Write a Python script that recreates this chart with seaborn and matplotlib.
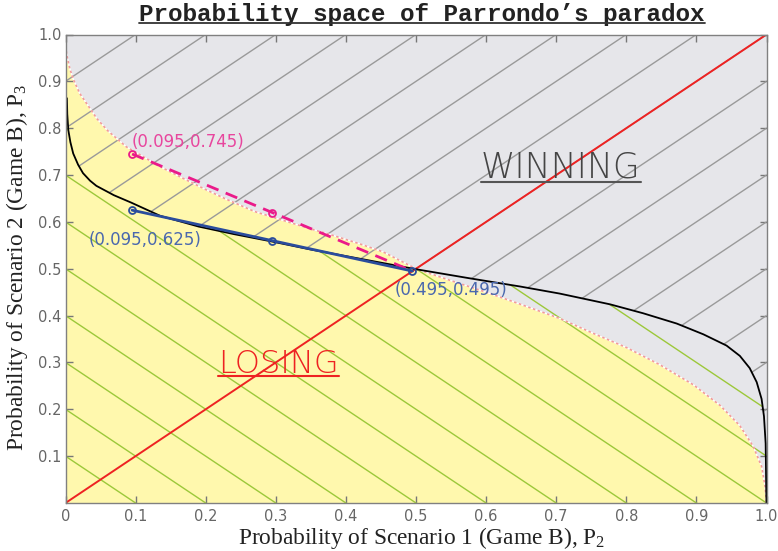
import numpy as np
import matplotlib
matplotlib.use("Agg")
import matplotlib.pyplot as plt
import seaborn as sns
from matplotlib.patches import Polygon
from matplotlib.lines import Line2D
from matplotlib.transforms import IdentityTransform

# ---------------- data ----------------
# boundary of the losing (yellow) region
bound_x = [0.0, 0.002, 0.006, 0.011, 0.02, 0.03, 0.045, 0.06, 0.087, 0.11, 0.135, 0.165,
           0.2, 0.23, 0.27, 0.311, 0.35, 0.382, 0.42, 0.453, 0.5, 0.549, 0.6, 0.64, 0.705,
           0.753, 0.8, 0.848, 0.896, 0.934, 0.962, 0.981, 0.993, 0.998, 1.0]
bound_y = [0.975, 0.955, 0.928, 0.905, 0.875, 0.853, 0.82, 0.795, 0.76, 0.74, 0.718, 0.695,
           0.669, 0.648, 0.622, 0.603, 0.585, 0.571, 0.553, 0.536, 0.5, 0.475, 0.45, 0.429, 0.394,
           0.362, 0.332, 0.295, 0.252, 0.208, 0.165, 0.121, 0.078, 0.035, 0.0]

# black curve
black_x = [0.002, 0.0025, 0.004, 0.007, 0.011, 0.018, 0.025, 0.035, 0.044, 0.069, 0.094,
           0.135, 0.19, 0.24, 0.295, 0.35, 0.4, 0.45, 0.5, 0.575, 0.649, 0.705, 0.777, 0.824,
           0.872, 0.91, 0.943, 0.962, 0.976, 0.986, 0.993, 0.9964, 0.9988, 0.9997, 1.0]
black_y = [0.864, 0.83, 0.796, 0.77, 0.746, 0.722, 0.704, 0.688, 0.677, 0.657, 0.641,
           0.613, 0.59, 0.574, 0.558, 0.541, 0.527, 0.513, 0.499, 0.48, 0.462, 0.447, 0.424, 0.405,
           0.383, 0.360, 0.336, 0.314, 0.288, 0.258, 0.222, 0.185, 0.127, 0.021, 0.0]

# diagonal
diag_x = [0.0, 1.0]
diag_y = [0.0, 1.0]

# pink dashed path
pink_x = [0.095, 0.295, 0.495]
pink_y = [0.745, 0.620, 0.495]
# blue path
blue_x = [0.095, 0.295, 0.495]
blue_y = [0.625, 0.560, 0.495]

x_ticks = [0, 0.1, 0.2, 0.3, 0.4, 0.5, 0.6, 0.7, 0.8, 0.9, 1.0]
x_tick_labels = ["0", "0.1", "0.2", "0.3", "0.4", "0.5", "0.6", "0.7", "0.8", "0.9", "1.0"]
y_ticks = [0.1, 0.2, 0.3, 0.4, 0.5, 0.6, 0.7, 0.8, 0.9, 1.0]
y_tick_labels = ["0.1", "0.2", "0.3", "0.4", "0.5", "0.6", "0.7", "0.8", "0.9", "1.0"]

# ---------------- style ----------------
sns.set_theme(style="ticks")
plt.rcParams["font.family"] = ["DejaVu Sans"]

YELLOW = "#fff8ad"
GRAY_BG = "#e6e6ea"
HATCH_GRAY = "#9a9a9a"
HATCH_GREEN = "#9cc83a"
RED = "#ee2222"
PINK = "#ea1a8a"
BLUE = "#2a4c9c"
PINK_TXT = "#e8469e"
BLUE_TXT = "#4a68ae"

fig = plt.figure(figsize=(7.78, 5.51), dpi=100)
ax = fig.add_axes([65.5 / 778, 48 / 551, 701 / 778, 468.5 / 551])
ax.set_xlim(0, 1)
ax.set_ylim(0, 1)

# background regions
ax.fill_between(bound_x, 0, bound_y, color=YELLOW, lw=0, zorder=0)
ax.fill_between(bound_x, bound_y, 1, color=GRAY_BG, lw=0, zorder=0)

# clip polygons from the black curve
bx = np.array(black_x)
by = np.array(black_y)
above = Polygon(np.column_stack([np.r_[0.0, bx, 1.0, 0.0], np.r_[by[0], by, 1.0, 1.0]]),
                closed=True, transform=ax.transData)
below = Polygon(np.column_stack([np.r_[0.0, bx, 1.0, 0.0], np.r_[by[0], by, 0.0, 0.0]]),
                closed=True, transform=ax.transData)

for c in np.arange(-0.9, 0.95, 0.1):
    ln, = ax.plot([-0.5, 1.5], [-0.5 + c, 1.5 + c], color=HATCH_GRAY, lw=1.0, zorder=1)
    ln.set_clip_path(above)
for c in np.arange(0.1, 1.95, 0.1):
    ln, = ax.plot([-0.5, 2.5], [c + 0.5, c - 2.5], color=HATCH_GREEN, lw=1.0, zorder=1)
    ln.set_clip_path(below)

# boundary of yellow region
ax.plot(bound_x, bound_y, color="white", lw=1.0, zorder=2)
ax.plot(bound_x, bound_y, color="#f29a9a", lw=1.2, ls=(0, (1.5, 1.5)), zorder=2)

# diagonal
sns.lineplot(x=diag_x, y=diag_y, ax=ax, color=RED, lw=1.4, zorder=3,
             estimator=None, sort=False)
# black curve
sns.lineplot(x=black_x, y=black_y, ax=ax, color="black", lw=1.3, zorder=3,
             estimator=None, sort=False)
# pink dashed
sns.lineplot(x=pink_x, y=pink_y, ax=ax, color=PINK, lw=2.0, zorder=4,
             estimator=None, sort=False, linestyle=(0, (4.5, 2.8)))
sns.lineplot(x=pink_x[:2], y=pink_y[:2], ax=ax, color=PINK, lw=0, zorder=5,
             estimator=None, sort=False, marker="o", ms=5, mfc="none", mec=PINK, mew=1.3)
# blue
sns.lineplot(x=blue_x, y=blue_y, ax=ax, color=BLUE, lw=2.0, zorder=4,
             estimator=None, sort=False)
sns.lineplot(x=blue_x, y=blue_y, ax=ax, color=BLUE, lw=0, zorder=5,
             estimator=None, sort=False, marker="o", ms=5, mfc="none", mec=BLUE, mew=1.3)

# annotations
ax.text(0.095, 0.760, f"({pink_x[0]},{pink_y[0]})", color=PINK_TXT, fontsize=12,
        va="baseline", ha="left", zorder=6)
ax.text(0.0325, 0.551, f"({blue_x[0]},{blue_y[0]})", color=BLUE_TXT, fontsize=12,
        va="baseline", ha="left", zorder=6)
ax.text(0.470, 0.444, f"({blue_x[2]},{blue_y[2]})", color=BLUE_TXT, fontsize=12,
        va="baseline", ha="left", zorder=6)

t_win = ax.text(0.5927, (503 - 178) / 468.5, "WINNING", color="#454545", fontsize=25,
                va="baseline", ha="left", zorder=6, fontweight="light")
t_lose = ax.text(0.2175, (503 - 373) / 468.5, "LOSING", color=RED, fontsize=23,
                 va="baseline", ha="left", zorder=6, fontweight="light")

# ticks & spines
ax.set_xticks(x_ticks)
ax.set_xticklabels(x_tick_labels)
ax.set_yticks(y_ticks)
ax.set_yticklabels(y_tick_labels)
ax.tick_params(direction="in", length=5, width=1, color="#777777", labelcolor="#666666",
               labelsize=10.5, top=True, right=True)
ax.tick_params(axis="y", pad=3)
ax.tick_params(axis="x", pad=4)
for s in ax.spines.values():
    s.set_color("#808080")
    s.set_linewidth(1.0)
    s.set_zorder(7)

# axis labels (serif)
fig.text(422 / 778, 1 - 538 / 551, r"Probability of Scenario 1 (Game B), P$_\mathregular{2}$",
         family="Liberation Serif", fontsize=16.8, color="#222222", ha="center", va="center")
fig.text(17 / 778, 1 - 267 / 551, r"Probability of Scenario 2 (Game B), P$_\mathregular{3}$",
         family="Liberation Serif", fontsize=16.8, color="#222222", ha="center", va="center",
         rotation=90)

# title
title = fig.text(422 / 778, 1 - 20.5 / 551, "Probability space of Parrondo\u2019s paradox",
                 family=["Liberation Mono", "DejaVu Sans Mono"], fontweight="bold", fontsize=17.5,
                 color="#222222", ha="center", va="baseline")

# underlines
fig.canvas.draw()
r = fig.canvas.get_renderer()

def underline(t, base_y_px, offset, color, lw):
    bb = t.get_window_extent(r)
    y = base_y_px - offset
    fig.add_artist(Line2D([bb.x0, bb.x1], [y, y], transform=IdentityTransform(),
                          color=color, lw=lw, zorder=8))

underline(title, 551 - 20.5, 2.5, "#333333", 1.3)
wy = ax.transData.transform((0, (503 - 178) / 468.5))[1]
underline(t_win, wy, 4, "#555555", 1.5)
ly = ax.transData.transform((0, (503 - 373) / 468.5))[1]
underline(t_lose, ly, 3, RED, 1.5)

fig.savefig("out.png", dpi=100)
